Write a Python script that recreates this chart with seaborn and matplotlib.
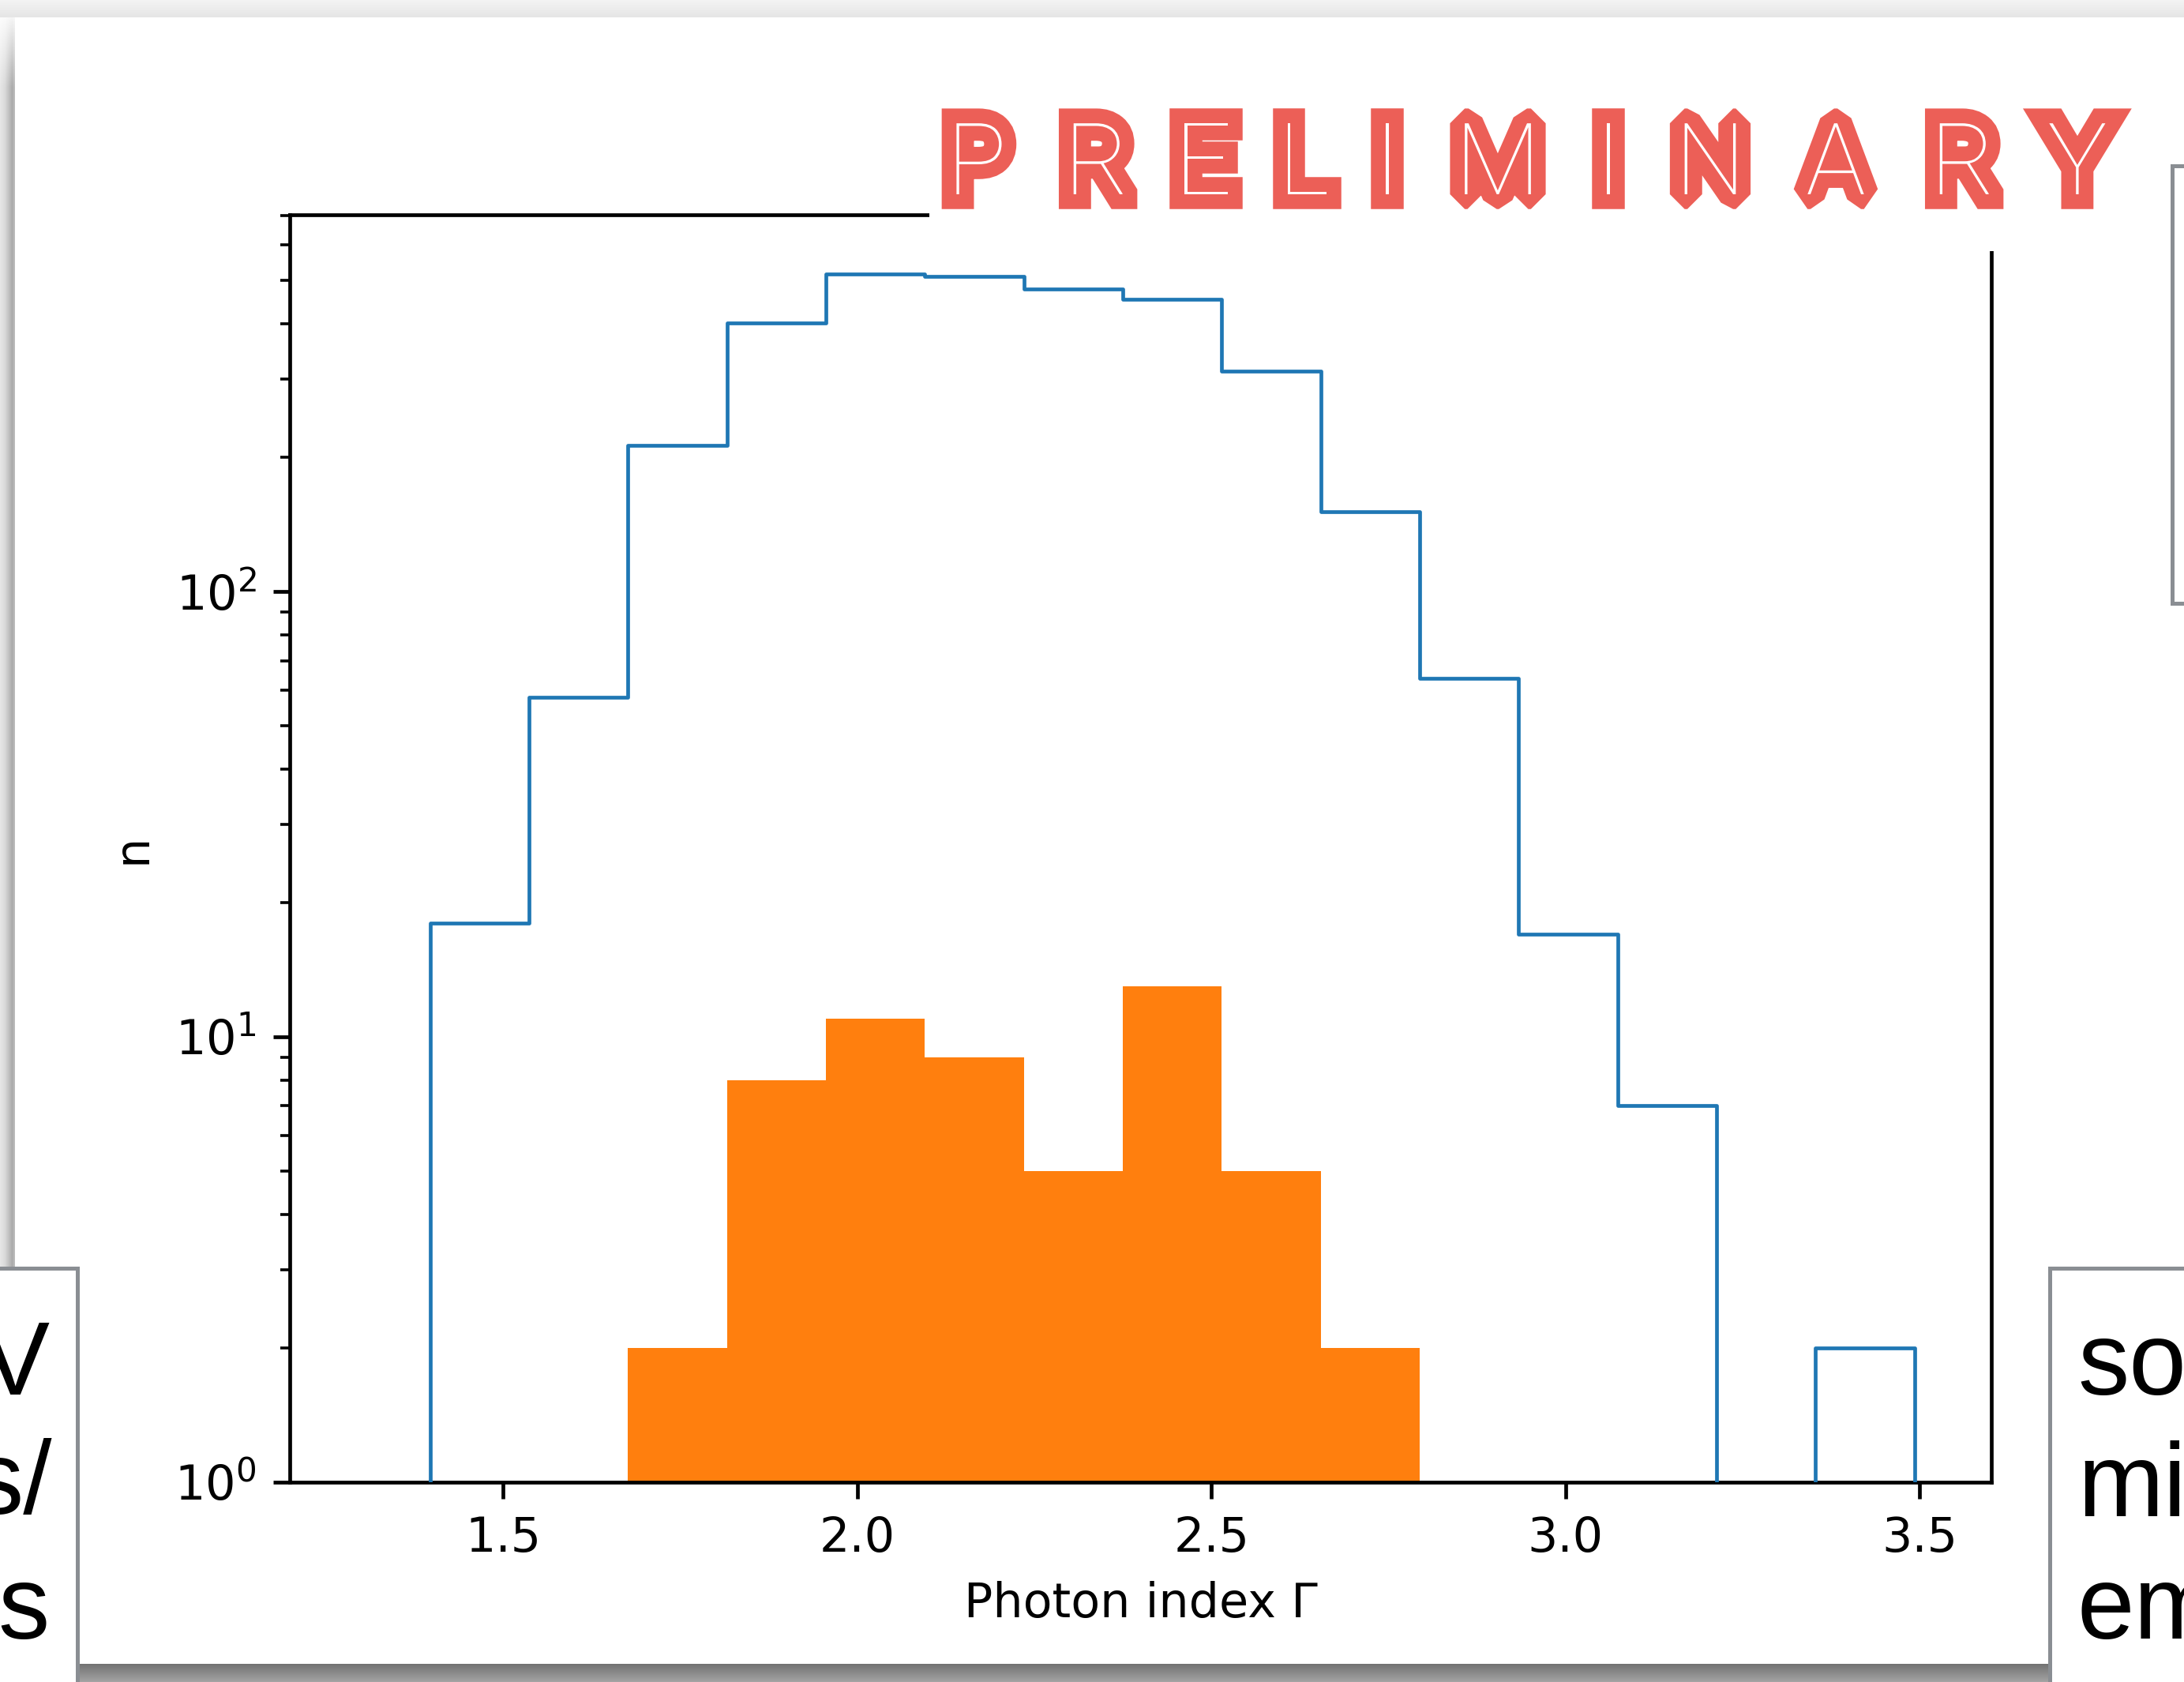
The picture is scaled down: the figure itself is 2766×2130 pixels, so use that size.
import numpy as np
import pandas as pd
import matplotlib
matplotlib.use("Agg")
import matplotlib.pyplot as plt
import matplotlib.patheffects as pe
from matplotlib.patches import Rectangle
import seaborn as sns

# ---- histogram data: shared bins and counts per bin ----
bin_start = 1.397
bin_width = 0.1397
n_bins = 15
all_counts = [18, 58, 213, 401, 516, 510, 478, 454, 313, 151, 64, 17, 7, 0, 2]
sel_counts = [0, 0, 2, 8, 11, 9, 5, 13, 5, 2, 0, 0, 0, 0, 0]

x_ticks = [1.5, 2.0, 2.5, 3.0, 3.5]
x_label = "Photon index Γ"
y_label = "n"
banner = "PRELIMINARY"
left_box_lines = ["V", "s/", "s"]
right_box_lines = ["so", "mi", "em"]

W, H = 2766, 2130
BLUE = "#1f77b4"
ORANGE = "#ff7f0e"
RED = "#ec5f57"
BOX_EDGE = "#8a8e93"

sns.set_theme(style="ticks")
plt.rcParams.update({
    "font.family": ["DejaVu Sans"],
    "font.size": 43.5,
    "axes.linewidth": 3.4,
    "axes.edgecolor": "black",
    "axes.labelcolor": "black",
    "text.color": "black",
    "xtick.color": "black",
    "ytick.color": "black",
    "xtick.labelsize": 43.5,
    "ytick.labelsize": 43.5,
    "axes.labelsize": 43.5,
    "xtick.major.size": 15.2, "ytick.major.size": 15.2,
    "xtick.minor.size": 8.7, "ytick.minor.size": 8.7,
    "xtick.major.width": 3.4, "ytick.major.width": 3.4,
    "xtick.minor.width": 2.6, "ytick.minor.width": 2.6,
    "xtick.major.pad": 15.2, "ytick.major.pad": 15.2,
    "xtick.minor.pad": 15.2, "ytick.minor.pad": 15.2,
    "axes.labelpad": 17.4,
    "mathtext.fontset": "dejavusans",
})


def fx(px):
    return px / W


def fy(py):
    return 1 - py / H


fig = plt.figure(figsize=(W / 100, H / 100), dpi=100, facecolor="white")

# ---- slide background with soft drop shadows ----
bg = np.ones((H, W, 3))
top_shade = np.linspace(0.955, 0.90, 22)
bg[:22, :, :] = top_shade[:, None, None]
cols = np.arange(19)
left_shade = np.interp(cols, [0, 6, 15, 18], [0.90, 0.85, 0.67, 0.74])
rows = np.arange(H)
fade = np.clip((rows - 10) / 100.0, 0, 1)
left_block = 1 - fade[:, None] * (1 - left_shade[None, :])
bg[:, :19, :] = np.minimum(bg[:, :19, :], left_block[:, :, None])
bottom_shade = np.linspace(0.45, 0.64, H - 2107)
bg[2107:, :, :] = bottom_shade[:, None, None]
fig.figimage(bg, xo=0, yo=0, origin="upper", zorder=-10)

# ---- the histogram axes ----
ax = fig.add_axes([fx(367), fy(1877), fx(2522) - fx(367), fy(272) - fy(1877)])
ax.set_facecolor("white")

edges = bin_start + bin_width * np.arange(n_bins + 1)
centers = 0.5 * (edges[:-1] + edges[1:])

# padded with an empty bin at each end so the outline drops to the floor
pad_edges = np.concatenate([[edges[0] - bin_width], edges, [edges[-1] + bin_width]])
pad_centers = 0.5 * (pad_edges[:-1] + pad_edges[1:])
all_df = pd.DataFrame({"gamma": pad_centers, "n": [0] + all_counts + [0]})
sel_df = pd.DataFrame({"gamma": centers, "n": sel_counts})

sns.histplot(data=all_df, x="gamma", weights="n", bins=pad_edges.tolist(),
             element="step", fill=False, color=BLUE, linewidth=3.4, ax=ax,
             zorder=3)
sns.histplot(data=sel_df, x="gamma", weights="n", bins=edges.tolist(),
             element="bars", fill=True, color=ORANGE, alpha=1, linewidth=0,
             ax=ax, zorder=2)

ax.set_yscale("log")
ax.set_ylim(1, 702)
ax.set_xlim(1.199, 3.601)
ax.set_xticks(x_ticks)
ax.set_xticklabels([f"{t:.1f}" for t in x_ticks])
ax.set_xlabel(x_label)
ax.set_ylabel(y_label)
for side in ["top", "right", "left", "bottom"]:
    ax.spines[side].set_visible(True)
    ax.spines[side].set_color("black")
    ax.spines[side].set_linewidth(3.4)

# ---- banner with white backing ----
fig.add_artist(Rectangle((fx(1177), fy(318)), fx(2725) - fx(1177), fy(80) - fy(318),
                         transform=fig.transFigure, facecolor="white",
                         edgecolor="none", zorder=5))

letter_x = [1237, 1389, 1524, 1651, 1757, 1897, 2037, 2166, 2325, 2486, 2631]
for ch, cx in zip(banner, letter_x):
    # sharp diagonal joins get bevelled so they do not spike out
    join = "bevel" if ch in "MNA" else "miter"
    fig.text(fx(cx), fy(246), ch, fontsize=91, family=["Roboto", "DejaVu Sans"],
             fontweight=100, color="white", ha="center", va="baseline",
             zorder=6,
             path_effects=[pe.Stroke(linewidth=27, foreground=RED, joinstyle=join),
                           pe.Normal()])

# ---- neighbouring slide boxes ----
box_lw = 3.6
fig.add_artist(Rectangle((fx(-40), fy(2200)), fx(97.5) - fx(-40), fy(1605.5) - fy(2200),
                         transform=fig.transFigure, facecolor="white",
                         edgecolor=BOX_EDGE, linewidth=box_lw, zorder=7))
fig.add_artist(Rectangle((fx(2595.5), fy(2200)), fx(2900) - fx(2595.5), fy(1605.5) - fy(2200),
                         transform=fig.transFigure, facecolor="white",
                         edgecolor=BOX_EDGE, linewidth=box_lw, zorder=7))
fig.add_artist(Rectangle((fx(2750.5), fy(764)), fx(2900) - fx(2750.5), fy(209.5) - fy(764),
                         transform=fig.transFigure, facecolor="white",
                         edgecolor=BOX_EDGE, linewidth=box_lw, zorder=7))

box_font = ["Liberation Sans", "DejaVu Sans"]
for line, rx, by in zip(left_box_lines, [62, 66, 63], [1766, 1917, 2075]):
    fig.text(fx(rx), fy(by), line, fontsize=94, family=box_font, color="black",
             ha="right", va="baseline", zorder=8)
for line, lx, by in zip(right_box_lines, [2631, 2631, 2631], [1766, 1920, 2075]):
    fig.text(fx(lx), fy(by), line, fontsize=94, family=box_font, color="black",
             ha="left", va="baseline", zorder=8)

fig.savefig("out.png", dpi=100, facecolor="white")
